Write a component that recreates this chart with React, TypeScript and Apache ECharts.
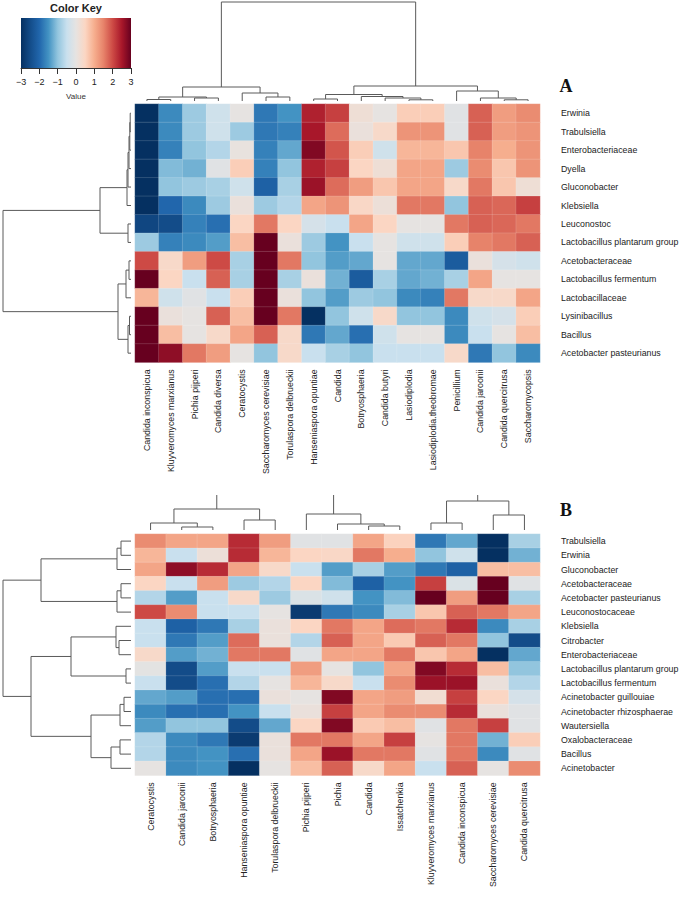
import React, { useEffect, useRef } from "react";
import * as echarts from "echarts";

// ---------- colour scale ----------
const keyMin = -3;
const keyMax = 3;
const palette = [
  "#053061", "#134c89", "#2166ac", "#4393c3", "#92c5de", "#c9e0ee", "#e6e3e1",
  "#fbd6c3", "#f6ae8e", "#e7836a", "#cd4a45", "#a8172a", "#67001f",
];

// ---------- heatmap A ----------
const colsA = [
  "Candida inconspicua", "Kluyveromyces marxianus", "Pichia pijperi", "Candida diversa",
  "Ceratocystis", "Saccharomyces cerevisiae", "Torulaspora delbrueckii", "Hanseniaspora opuntiae",
  "Candida", "Botryosphaeria", "Candida butyri", "Lasiodiplodia", "Lasiodiplodia.theobromae",
  "Penicillium", "Candida jaroonii", "Candida quercitrusa", "Saccharomycopsis",
];
const rowsA = [
  "Erwinia", "Trabulsiella", "Enterobacteriaceae", "Dyella", "Gluconobacter", "Klebsiella",
  "Leuconostoc", "Lactobacillus plantarum group", "Acetobacteraceae", "Lactobacillus fermentum",
  "Lactobacillaceae", "Lysinibacillus", "Bacillus", "Acetobacter pasteurianus",
];
const valuesA = [
  [-3, -1.6, -0.9, -0.4, 0, -1.8, -1.5, 2.4, 2.1, 0.2, 0, 0.6, 0.6, -0.1, 1.8, 1.2, 1.4],
  [-3, -1.6, -0.9, -0.4, -0.9, -1.8, -1.7, 2.5, 1.7, 0.1, 0.4, 1.3, 1.3, -0.1, 1.8, 1.2, 1.3],
  [-3, -1.7, -1.0, -0.7, 0.05, -1.7, -1.3, 2.8, 1.9, 0.6, -0.4, 0.9, 0.9, 0.7, 1.5, 1.0, 1.3],
  [-3, -1.1, -1.2, -0.1, 0.6, -1.7, -1.0, 2.4, 2.1, 0.5, 0.2, 1.1, 1.1, -0.9, 1.4, 0.7, 1.3],
  [-3, -1.0, -0.9, -0.8, -0.4, -2.1, -0.8, 2.6, 1.7, 1.2, 0.7, 1.1, 1.1, 0.4, 1.6, 0.7, 0.2],
  [-3, -2.0, -1.6, -0.9, 0.1, -0.9, -0.7, 1.1, 1.3, 0.45, 0.15, 1.6, 1.6, -1.0, 1.8, 1.75, 2.1],
  [-2.6, -2.5, -1.7, -1.9, 0.5, 1.6, 0.5, -0.3, -0.5, 1.1, 0.5, 0, 0, 1.6, 1.8, 1.75, 1.6],
  [-0.9, -1.7, -1.6, -1.4, 0.8, 3, 0.1, -0.9, -1.5, -0.5, 0, -0.4, -0.4, 0.6, 1.5, 1.6, 1.8],
  [2.0, 0.4, 1.2, 2.0, -0.8, 3, 1.6, -1.0, -1.4, -1.3, 0, -1.3, -1.3, -2.2, 0.1, -0.3, -0.4],
  [3, 0.5, -0.5, 1.8, -0.8, 3, -0.8, 0.1, -1.2, -2.2, -0.8, -1.3, -1.2, -0.8, 1.1, 0, 0],
  [0.9, -0.4, -0.1, -0.5, 0.6, 3, 0.1, -1.0, -1.4, -0.9, -1.0, -1.6, -1.7, 1.6, 0.4, 0.4, 1.1],
  [3, 0.1, 0, 1.8, 0.8, 3, 1.6, -3, -1.0, -0.4, 0.4, -1.0, -1.0, -1.6, -0.4, -0.3, 0.6],
  [3, 0.8, 0, 0.4, 1.1, 1.8, 0.4, -1.8, -1.3, -1.9, -0.4, 0, 0, -1.6, -0.5, 0, 0.8],
  [3, 2.7, 1.6, 1.2, 0, -1.0, 0.4, -0.5, -0.8, -1.0, -0.5, -0.5, -0.5, 0.4, -1.8, -1.0, -1.6],
];

// ---------- heatmap B ----------
const colsB = [
  "Ceratocystis", "Candida jaroonii", "Botryosphaeria", "Hanseniaspora opuntiae",
  "Torulaspora delbrueckii", "Pichia pijperi", "Pichia", "Candida", "Issatchenkia",
  "Kluyveromyces marxianus", "Candida inconspicua", "Saccharomyces cerevisiae", "Candida quercitrusa",
];
const rowsB = [
  "Trabulsiella", "Erwinia", "Gluconobacter", "Acetobacteraceae", "Acetobacter pasteurianus",
  "Leuconostocaceae", "Klebsiella", "Citrobacter", "Enterobacteriaceae",
  "Lactobacillus plantarum group", "Lactobacillus fermentum", "Acinetobacter guillouiae",
  "Acinetobacter rhizosphaerae", "Wautersiella", "Oxalobacteraceae", "Bacillus", "Acinetobacter",
];
const valuesB = [
  [1.4, 1.1, 1.1, 2.3, 1.2, -0.1, -0.1, 1.1, 0.55, -1.8, -1.3, -3, -0.8],
  [0.9, -0.5, 0.15, 2.3, 0.9, 0.5, 0.45, 1.6, 1.0, -1.0, -0.4, -3, -1.2],
  [1.1, 2.7, 2.3, 1.1, 0.4, -0.5, -1.4, -0.8, -1.4, -1.8, -2.1, 0.8, 0.8],
  [0.5, -0.5, 1.2, -0.9, -0.7, 0.5, -1.1, -2.1, -1.5, 2.1, -0.2, 3, -0.1],
  [-0.7, -1.4, -0.5, 0.4, -0.9, -0.2, -0.4, -1.5, -1.1, 3, 1.2, 3, -0.8],
  [2.0, 1.4, -0.5, -0.5, 0, -2.8, -1.8, -1.6, -0.8, 0.7, 1.8, 1.6, 1.1],
  [-0.5, -2.1, -1.8, -0.8, 0.1, 0.5, 1.6, 1.1, 1.7, 1.6, 2.3, -1.6, -0.8],
  [-0.5, -1.8, -1.4, 1.7, 0.1, -0.7, 1.8, 1.1, 0.65, 1.8, 1.6, -1.0, -2.5],
  [0.4, -1.4, -1.2, 1.6, 1.6, -0.1, 1.1, 1.1, 1.6, 0.7, 1.1, -3, -1.3],
  [-0.05, -2.5, -1.4, -0.5, -0.5, 1.2, 0, -1.0, 1.1, 2.8, 2.3, 0.8, -1.0],
  [-0.5, -2.5, -1.9, -0.7, 0, 0.9, 0.4, -0.5, 1.4, 2.6, 2.6, 0.1, -0.7],
  [-1.3, -1.4, -1.9, -1.9, 0.1, 0, 2.8, 1.1, 1.2, 0.25, 2.1, 0.5, -0.3],
  [-1.6, -1.9, -1.9, -1.5, -0.5, 0.1, 2.1, 1.1, 1.4, 1.4, 2.3, 0.1, -0.1],
  [-1.4, -1.0, -1.0, -2.5, -1.3, 0.5, 2.8, 0.65, 0.8, -0.1, 1.6, 2.1, -0.1],
  [-0.7, -1.6, -1.8, -2.8, 0.1, 1.6, 1.6, 1.1, 2.1, 0, 1.6, -1.2, 0.6],
  [-0.7, -1.6, -1.5, -1.9, 0.1, 1.1, 2.6, 1.6, 1.6, -0.1, 1.6, -1.6, -0.1],
  [0, -1.6, -1.5, -3, 0, 0.8, 1.8, 0.4, 1.1, -0.5, 1.8, 0, 1.4],
];

// ---------- dendrograms: [left, right, mergeHeight] ----------
type Node = number | [Node, Node, number];
const colTreeA: Node = [
  [[[0, 1, 1.5], [2, 3, 3], 4], [4, [5, 6, 4], 8], 14],
  [[[7, 8, 2], [9, [10, [11, 12, 1.2], 3], 4.5], 6.5], [13, [14, [15, 16, 1.2], 3], 10], 15],
  99,
];
const rowTreeA: Node = [
  [[[[[[0, 1, 0.8], 2, 1.2], 3, 2], 4, 3], 5, 4], [6, 7, 3], 31],
  [[[8, 9, 2], 10, 5], [[11, 12, 1.5], 13, 3], 13],
  128,
];
const colTreesB: Node[] = [
  [[0, [1, 2, 3], 7], [3, 4, 10], 21],
  [5, [6, [7, 8, 4], 6], 16],
  [[9, 10, 7], [11, 12, 15], 29],
];
const colStemB = 35;
const rowTreeB: Node = [
  [[[0, 1, 10], 2, 14], [[3, 4, 10], 5, 14], 90],
  [[[6, [7, 8, 12], 15], [9, 10, 5], 60], [[[11, 12, 7], 13, 11], [[14, 15, 11], 16, 20], 40], 100],
  128,
];

// ---------- layout ----------
const GA = { left: 135, top: 104, width: 405, height: 258.4 };
const GB = { left: 135, top: 534, width: 405, height: 241.4 };
const KEY = { left: 21, top: 18, width: 110, height: 50 };
const LINE = "#5a5a5a";

function dendro(tree: Node, leafPos: (i: number) => number, toXY: (p: number, h: number) => number[]) {
  const els: any[] = [];
  const walk = (n: Node): { p: number; h: number } => {
    if (typeof n === "number") return { p: leafPos(n), h: 0 };
    const a = walk(n[0]);
    const b = walk(n[1]);
    const h = n[2];
    els.push({
      type: "polyline",
      silent: true,
      shape: { points: [toXY(a.p, a.h), toXY(a.p, h), toXY(b.p, h), toXY(b.p, b.h)] },
      style: { stroke: LINE, lineWidth: 1, fill: null },
    });
    return { p: (a.p + b.p) / 2, h };
  };
  const root = walk(tree);
  return { els, root };
}

function heatData(values: number[][]) {
  const d: number[][] = [];
  values.forEach((row, r) => row.forEach((v, c) => d.push([c, r, v])));
  return d;
}

export default function App() {
  const ref = useRef<HTMLDivElement>(null);
  useEffect(() => {
    if (!ref.current) return;
    const chart = echarts.init(ref.current, null, { renderer: "svg" });

    const cwA = GA.width / colsA.length;
    const rhA = GA.height / rowsA.length;
    const cwB = GB.width / colsB.length;
    const rhB = GB.height / rowsB.length;

    const baseA = GA.top - 3;
    const dA = dendro(colTreeA, (i) => GA.left + (i + 0.5) * cwA, (p, h) => [p, baseA - h]);
    const baseRA = GA.left - 4;
    const rA = dendro(rowTreeA, (i) => GA.top + (i + 0.5) * rhA, (p, h) => [baseRA - h, p]);
    const baseB = GB.top - 4;
    const dBels: any[] = [];
    colTreesB.forEach((t) => {
      const r = dendro(t, (i) => GB.left + (i + 0.5) * cwB, (p, h) => [p, baseB - h]);
      dBels.push(...r.els);
      dBels.push({
        type: "line",
        silent: true,
        shape: { x1: r.root.p, y1: baseB - r.root.h, x2: r.root.p, y2: baseB - colStemB },
        style: { stroke: LINE, lineWidth: 1 },
      });
    });
    const rB = dendro(rowTreeB, (i) => GB.top + (i + 0.5) * rhB, (p, h) => [baseRA - h, p]);

    const stops = palette.map((c, i) => ({ offset: i / (palette.length - 1), color: c }));

    const axisLabelStyle = { fontFamily: "Liberation Sans", fontSize: 8.8, color: "#222" };

    chart.setOption({
      animation: false,
      backgroundColor: "#fff",
      textStyle: { fontFamily: "Liberation Sans" },
      grid: [
        { left: GA.left, top: GA.top, width: GA.width, height: GA.height },
        { left: GB.left, top: GB.top, width: GB.width, height: GB.height },
        { left: KEY.left, top: KEY.top, width: KEY.width, height: KEY.height },
      ],
      xAxis: [
        {
          type: "category", gridIndex: 0, data: colsA, position: "bottom",
          axisLine: { show: false }, axisTick: { show: false }, splitLine: { show: false },
          axisLabel: { ...axisLabelStyle, rotate: 90, interval: 0, margin: 7 },
        },
        {
          type: "category", gridIndex: 1, data: colsB, position: "bottom",
          axisLine: { show: false }, axisTick: { show: false }, splitLine: { show: false },
          axisLabel: { ...axisLabelStyle, rotate: 90, interval: 0, margin: 7 },
        },
        {
          type: "value", gridIndex: 2, min: keyMin, max: keyMax, interval: 1, position: "bottom",
          axisLine: { show: true, lineStyle: { color: "#333", width: 1 } },
          axisTick: { show: true, length: 6, lineStyle: { color: "#333" } },
          splitLine: { show: false },
          axisLabel: {
            fontFamily: "Liberation Sans", fontSize: 9, color: "#222", margin: 9,
            formatter: (v: number) => String(v).replace("-", "\u2212"),
          },
          name: "Value", nameLocation: "middle", nameGap: 24,
          nameTextStyle: { fontFamily: "Liberation Sans", fontSize: 8, color: "#333" },
        },
      ],
      yAxis: [
        {
          type: "category", gridIndex: 0, data: rowsA, inverse: true, position: "right",
          axisLine: { show: false }, axisTick: { show: false }, splitLine: { show: false },
          axisLabel: { ...axisLabelStyle, margin: 21 },
        },
        {
          type: "category", gridIndex: 1, data: rowsB, inverse: true, position: "right",
          axisLine: { show: false }, axisTick: { show: false }, splitLine: { show: false },
          axisLabel: { ...axisLabelStyle, margin: 21 },
        },
        { type: "value", gridIndex: 2, min: 0, max: 1, show: false },
      ],
      visualMap: {
        type: "continuous", min: keyMin, max: keyMax, show: false, seriesIndex: [0, 1],
        inRange: { color: palette },
      },
      series: [
        {
          type: "heatmap", xAxisIndex: 0, yAxisIndex: 0, data: heatData(valuesA),
          itemStyle: { borderColor: "rgba(255,255,255,0.35)", borderWidth: 0.4 },
          emphasis: { disabled: true }, progressive: 0,
        },
        {
          type: "heatmap", xAxisIndex: 1, yAxisIndex: 1, data: heatData(valuesB),
          itemStyle: { borderColor: "rgba(255,255,255,0.35)", borderWidth: 0.4 },
          emphasis: { disabled: true }, progressive: 0,
        },
      ],
      graphic: [
        {
          type: "rect", silent: true, z: -1,
          shape: { x: KEY.left, y: KEY.top, width: KEY.width, height: KEY.height },
          style: { fill: { type: "linear", x: 0, y: 0, x2: 1, y2: 0, colorStops: stops } },
        },
        {
          type: "text", silent: true, x: KEY.left + KEY.width / 2, y: 8,
          style: {
            text: "Color Key", font: "bold 11px 'Liberation Sans'", fill: "#222",
            textAlign: "center", textVerticalAlign: "middle",
          },
        },
        {
          type: "text", silent: true, x: 566, y: 86,
          style: {
            text: "A", font: "bold 18px 'Liberation Serif'", fill: "#111",
            textAlign: "center", textVerticalAlign: "middle",
          },
        },
        {
          type: "text", silent: true, x: 566, y: 510,
          style: {
            text: "B", font: "bold 18px 'Liberation Serif'", fill: "#111",
            textAlign: "center", textVerticalAlign: "middle",
          },
        },
        ...dA.els,
        ...rA.els,
        ...dBels,
        ...rB.els,
      ],
    });
    return () => chart.dispose();
  }, []);
  return (
    <div
      ref={ref}
      style={{ position: "fixed", left: 0, top: 0, width: 683, height: 903, background: "#fff" }}
    />
  );
}
